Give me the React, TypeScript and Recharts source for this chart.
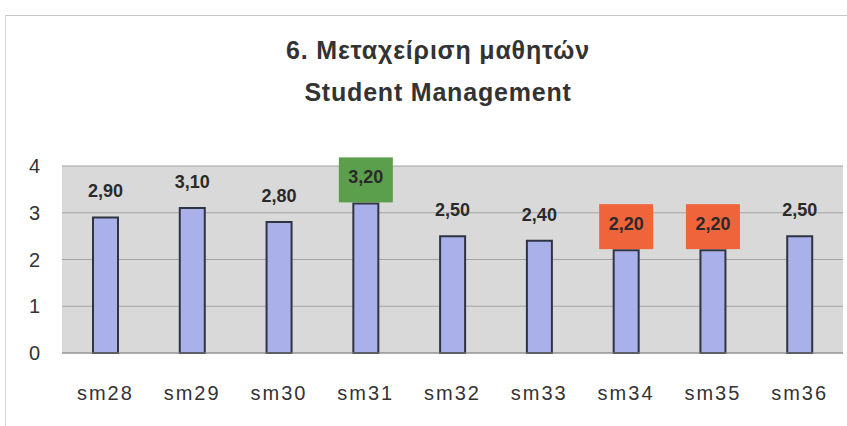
import { BarChart, Bar, XAxis, YAxis, CartesianGrid, LabelList } from "recharts";

const categories = ["sm28", "sm29", "sm30", "sm31", "sm32", "sm33", "sm34", "sm35", "sm36"];
const scores = [2.9, 3.1, 2.8, 3.2, 2.5, 2.4, 2.2, 2.2, 2.5];
// label box colour per bar (empty = plain label)
const highlights = ["", "", "", "#5b9e4c", "", "", "#f0643c", "#f0643c", ""];
const yTicks = [0, 1, 2, 3, 4];

const data = categories.map((name, i) => ({
  name,
  value: scores[i],
}));

const FONT = "'Liberation Sans', Arial, sans-serif";

function ValueLabel(props: any) {
  const { x, y, width, value, index } = props;
  const cx = x + width / 2;
  const fill = highlights[index];
  const text = value.toFixed(2).replace(".", ",");
  return (
    <g>
      {fill && <rect x={cx - 27} y={y - 46} width={54} height={45} fill={fill} />}
      <text
        x={cx}
        y={y - 25}
        textAnchor="middle"
        dominantBaseline="middle"
        fontFamily={FONT}
        fontWeight="bold"
        fontSize={18}
        fill="#2a2a2a"
      >
        {text}
      </text>
    </g>
  );
}

function CategoryTick(props: any) {
  const { x, y, payload } = props;
  return (
    <text
      x={x}
      y={y + 36}
      textAnchor="middle"
      dominantBaseline="middle"
      fontFamily={FONT}
      fontSize={20}
      letterSpacing={2}
      fill="#333"
    >
      {payload.value}
    </text>
  );
}

export default function App() {
  return (
    <div style={{ position: "absolute", left: 0, top: 0, width: 847, height: 426, background: "#fff" }}>
      <div
        style={{
          position: "absolute",
          left: 5,
          top: 15,
          width: 860,
          height: 430,
          borderTop: "1px solid #c8c8c8",
          borderLeft: "1px solid #d8d8d8",
        }}
      />
      <div
        style={{
          position: "absolute",
          left: 0,
          top: 29,
          width: 876,
          textAlign: "center",
          fontFamily: FONT,
          fontWeight: "bold",
          fontSize: 25,
          letterSpacing: 0.8,
          lineHeight: "42px",
          color: "#333",
        }}
      >
        <div>6. Μεταχείριση μαθητών</div>
        <div>Student Management</div>
      </div>
      <div style={{ position: "absolute", left: 0, top: 0 }}>
        <BarChart
          width={847}
          height={426}
          data={data}
          margin={{ top: 166, right: 4, bottom: 0, left: 0 }}
        >
          <CartesianGrid vertical={false} fill="#d9d9d9" stroke="#a4a4a4" />
          <XAxis
            dataKey="name"
            axisLine={{ stroke: "#8a8a8a" }}
            tickLine={false}
            tickMargin={0}
            tick={<CategoryTick />}
            height={73}
          />
          <YAxis
            domain={[0, 4]}
            ticks={yTicks}
            width={62}
            axisLine={false}
            tickLine={false}
            tickMargin={16}
            tick={{ fontFamily: FONT, fontSize: 20, fill: "#333" }}
          />
          <Bar
            dataKey="value"
            barSize={25}
            fill="#a9b0ea"
            stroke="#2e3440"
            strokeWidth={2}
            isAnimationActive={false}
          >
            <LabelList dataKey="value" content={<ValueLabel />} />
          </Bar>
        </BarChart>
      </div>
    </div>
  );
}
